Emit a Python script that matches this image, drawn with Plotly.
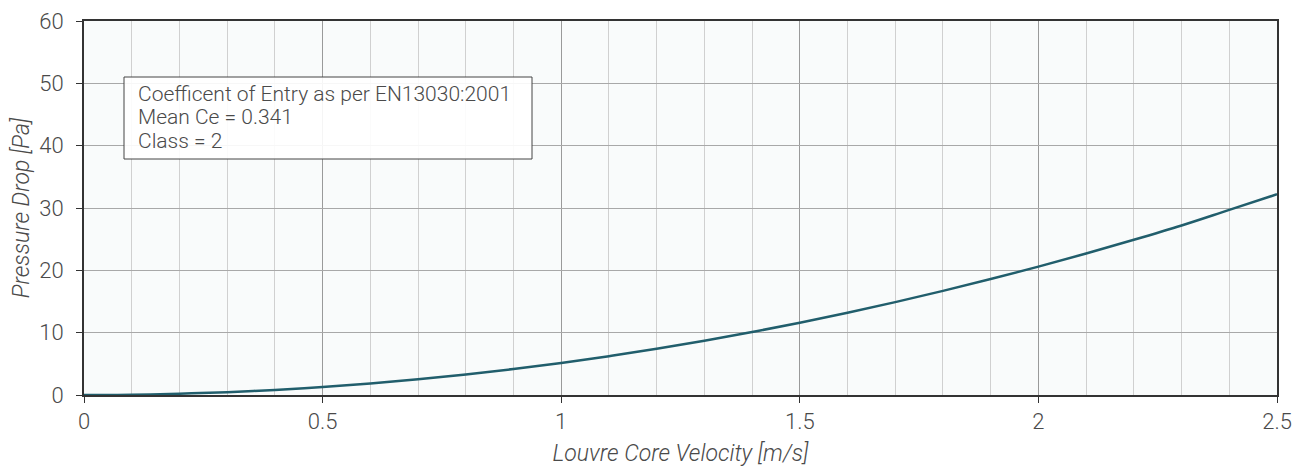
import plotly.graph_objects as go

velocity = [0.0, 0.1, 0.2, 0.3, 0.4, 0.5, 0.6, 0.7, 0.8, 0.9, 1.0, 1.1, 1.2,
            1.3, 1.4, 1.5, 1.6, 1.7, 1.8, 1.9, 2.0, 2.1, 2.2, 2.3, 2.4, 2.5]
pressure = [0.0, 0.05, 0.21, 0.46, 0.82, 1.29, 1.85, 2.52, 3.30, 4.17, 5.15,
            6.23, 7.42, 8.70, 10.1, 11.6, 13.2, 14.9, 16.7, 18.6, 20.6, 22.7,
            24.9, 27.2, 29.7, 32.2]
x_ticks = [0, 0.5, 1, 1.5, 2, 2.5]
x_tick_labels = ["0", "0.5", "1", "1.5", "2", "2.5"]
y_ticks = [0, 10, 20, 30, 40, 50, 60]
note_lines = ["Coefficent of Entry as per EN13030:2001", "Mean Ce = 0.341", "Class = 2"]

W, H = 1298, 459
L, R, T, B = 76, 29, 13, 72
pw, ph = W - L - R, H - T - B

def px(x):
    return (x - L) / pw

def py(y):
    return (H - B - y) / ph

TXT = "#4a4a4a"
tick_font = dict(family="Roboto", size=22, color=TXT, weight=300)
title_font = dict(family="Roboto", size=23, color=TXT, weight=300)

fig = go.Figure()
fig.add_trace(go.Scatter(x=velocity, y=pressure, mode="lines", line_shape="spline",
                         line=dict(color="#215e6c", width=2.5), showlegend=False))

fig.update_layout(
    width=W, height=H,
    margin=dict(l=L, r=R, t=T, b=B, autoexpand=False),
    paper_bgcolor="white", plot_bgcolor="#f9fbfb",
    font=dict(family="Roboto", size=19, color=TXT, weight=300),
    xaxis=dict(range=[0, 2.5], tickvals=x_ticks, ticktext=x_tick_labels, automargin=False,
               tickfont=tick_font,
               showgrid=True, gridcolor="#9a9a9a", gridwidth=1,
               minor=dict(dtick=0.1, showgrid=True, gridcolor="#d0d0d0", gridwidth=1),
               showline=True, linecolor="#333", linewidth=2, mirror=True,
               ticks="outside", ticklen=6, tickcolor="#333", zeroline=False,
               title=dict(text="<i>Louvre Core Velocity [m/s]</i>", standoff=20,
                          font=title_font)),
    yaxis=dict(range=[0, 60], tickvals=y_ticks, automargin=False,
               tickfont=tick_font, ticklabelstandoff=8,
               showgrid=True, gridcolor="#a8a8a8", gridwidth=1,
               showline=True, linecolor="#333", linewidth=2, mirror=True,
               ticks="outside", ticklen=6, tickcolor="#333", zeroline=False,
               title=dict(text="<i>Pressure Drop [Pa]</i>", standoff=6,
                          font=title_font)),
)

fig.add_shape(type="rect", xref="paper", yref="paper",
              x0=px(116), x1=px(524), y0=py(151), y1=py(69),
              fillcolor="rgba(255,255,255,0.9)", line=dict(color="#444", width=1))

for txt, yc in zip(note_lines, [85.5, 109, 132.5]):
    fig.add_annotation(xref="paper", yref="paper", x=px(128), y=py(yc),
                       xanchor="left", yanchor="middle", showarrow=False, text=txt,
                       font=dict(family="Roboto", size=21, color=TXT, weight=300))

fig.write_html("out.html")
